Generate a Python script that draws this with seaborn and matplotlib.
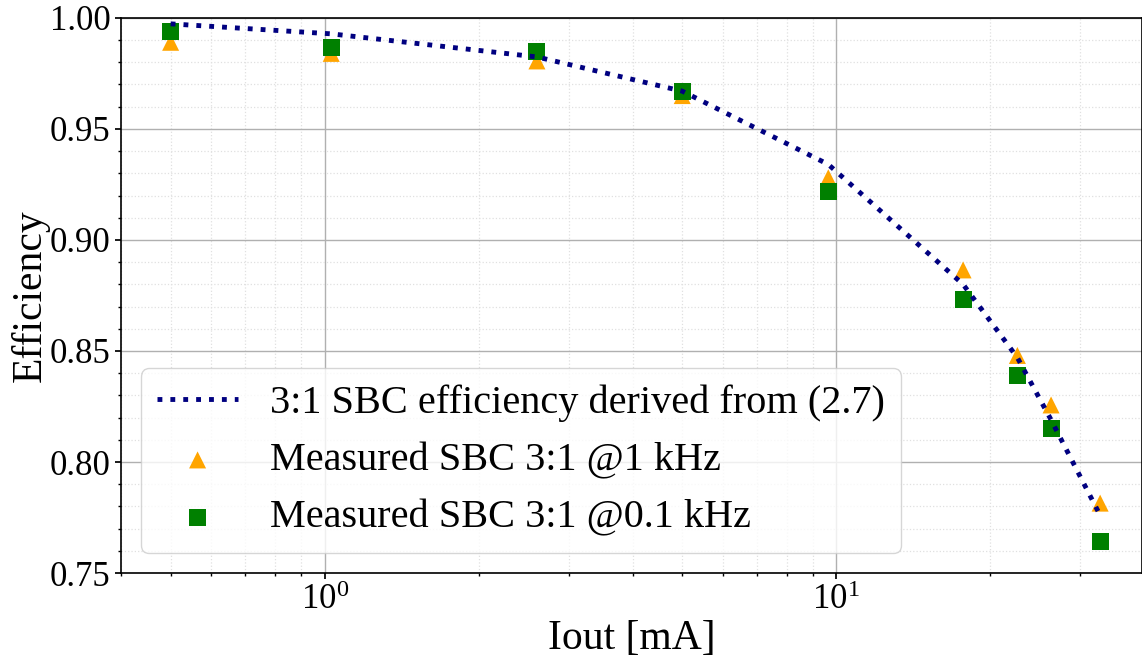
#libraries
import numpy as np
import pandas as pd
import matplotlib
matplotlib.use("Agg")
import matplotlib.pyplot as plt
import seaborn as sns
from matplotlib.ticker import MultipleLocator

##1.Data
iout_ma = [0.5, 1.03, 2.6, 5.0, 9.65, 17.7, 22.6, 26.3, 32.8]
eff_model = [0.9973, 0.9928, 0.9824, 0.967, 0.934, 0.880, 0.847, 0.819, 0.776]
eff_1khz = [0.989, 0.984, 0.9806, 0.965, 0.928, 0.8865, 0.848, 0.8257, 0.7815]
eff_01khz = [0.9937, 0.9865, 0.9847, 0.967, 0.9216, 0.8734, 0.839, 0.815, 0.7644]

label_model = "3:1 SBC efficiency derived from (2.7)"
label_1khz = "Measured SBC 3:1 @1 kHz"
label_01khz = "Measured SBC 3:1 @0.1 kHz"

df = pd.DataFrame({"Iout": iout_ma, "model": eff_model,
                   "f1k": eff_1khz, "f100": eff_01khz})

##2.Style
sns.set_theme(style="ticks")
plt.rcParams["font.family"] = ["Liberation Serif", "DejaVu Serif"]
plt.rcParams["mathtext.fontset"] = "stix"
# black text everywhere, seaborn default is dark gray
for key in ["text.color", "axes.labelcolor", "xtick.color", "ytick.color"]:
    plt.rcParams[key] = "black"

fig = plt.figure(figsize=(11.42, 6.61), dpi=100)
ax = fig.add_axes([0.106, 0.133, 0.894, 0.840])

##3.Plot
sns.lineplot(data=df, x="Iout", y="model", ax=ax, color="navy",
             linestyle=":", linewidth=3.5, label=label_model, zorder=4)
sns.scatterplot(data=df, x="Iout", y="f1k", ax=ax, marker="^", color="orange",
                s=150, edgecolor="none", label=label_1khz, zorder=3)
sns.scatterplot(data=df, x="Iout", y="f100", ax=ax, marker="s", color="green",
                s=150, edgecolor="none", label=label_01khz, zorder=3)

ax.set_xscale("log")
ax.set_xlim(0.4, 39.6)
ax.set_ylim(0.75, 1.00)
ax.yaxis.set_major_locator(MultipleLocator(0.05))
ax.yaxis.set_minor_locator(MultipleLocator(0.01))
ax.yaxis.set_major_formatter(matplotlib.ticker.FormatStrFormatter("%.2f"))

ax.grid(which="major", color="#b0b0b0", linewidth=1.0)
ax.grid(which="minor", color="#e0e0e0", linestyle=":", linewidth=0.9)
ax.set_axisbelow(True)

ax.tick_params(axis="both", which="major", labelsize=25, length=4, direction="out")
ax.tick_params(axis="both", which="minor", length=2)
ax.set_xlabel("Iout [mA]", fontsize=30, labelpad=2)
ax.set_ylabel("Efficiency", fontsize=30, labelpad=0)

for side in ["top", "left", "bottom", "right"]:
    ax.spines[side].set_visible(True)
    ax.spines[side].set_color("black")
    ax.spines[side].set_linewidth(1.2)

leg = ax.legend(loc="lower left", fontsize=29, frameon=True, fancybox=True,
                markerscale=1.0, handlelength=2.0)
leg.get_frame().set_edgecolor("#cccccc")
leg.get_frame().set_alpha(0.8)

plt.savefig("out.png", dpi=100)
plt.close()
print("Saved: out.png")
